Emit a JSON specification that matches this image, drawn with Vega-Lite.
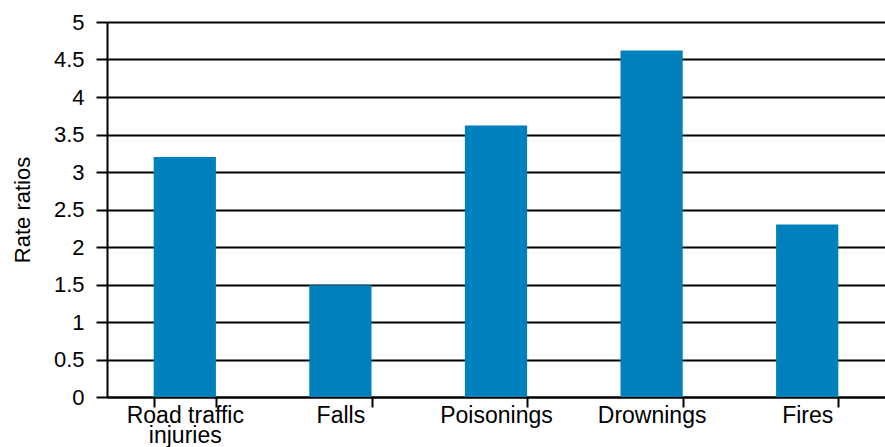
{
  "$schema": "https://vega.github.io/schema/vega-lite/v6.json",
  "width": 778,
  "height": 375,
  "autosize": {"type": "none"},
  "padding": {"left": 107, "top": 22, "right": 0, "bottom": 50},
  "config": {"view": {"stroke": null}, "font": "Liberation Sans"},
  "data": {
    "values": [
      {"cause": "Road traffic injuries", "rate_ratio": 3.2},
      {"cause": "Falls", "rate_ratio": 1.49},
      {"cause": "Poisonings", "rate_ratio": 3.62},
      {"cause": "Drownings", "rate_ratio": 4.62},
      {"cause": "Fires", "rate_ratio": 2.3}
    ]
  },
  "mark": {"type": "bar", "color": "#0080bd"},
  "encoding": {
    "x": {
      "field": "cause",
      "type": "nominal",
      "sort": null,
      "scale": {"paddingInner": 0.6, "paddingOuter": 0.3},
      "axis": {
        "title": null,
        "labelAngle": 0,
        "tickBand": "extent",
        "tickSize": 10,
        "tickWidth": 2,
        "tickColor": "black",
        "domainColor": "black",
        "domainWidth": 2,
        "labelFontSize": 23,
        "labelColor": "black",
        "labelPadding": -3,
        "labelLineHeight": 20,
        "labelExpr": "datum.label == 'Road traffic injuries' ? ['Road traffic', 'injuries'] : datum.label"
      }
    },
    "y": {
      "field": "rate_ratio",
      "type": "quantitative",
      "scale": {"domain": [0, 5], "nice": false},
      "axis": {
        "title": "Rate ratios",
        "titleFontSize": 22,
        "titleFontWeight": "normal",
        "titleColor": "black",
        "titlePadding": 19,
        "values": [0, 0.5, 1, 1.5, 2, 2.5, 3, 3.5, 4, 4.5, 5],
        "format": "~g",
        "labelFontSize": 22,
        "labelColor": "black",
        "labelPadding": 12,
        "tickSize": 11,
        "tickWidth": 2,
        "tickColor": "black",
        "domainColor": "black",
        "domainWidth": 2,
        "grid": true,
        "gridColor": "black",
        "gridWidth": 2,
        "gridOpacity": 1
      }
    }
  }
}
